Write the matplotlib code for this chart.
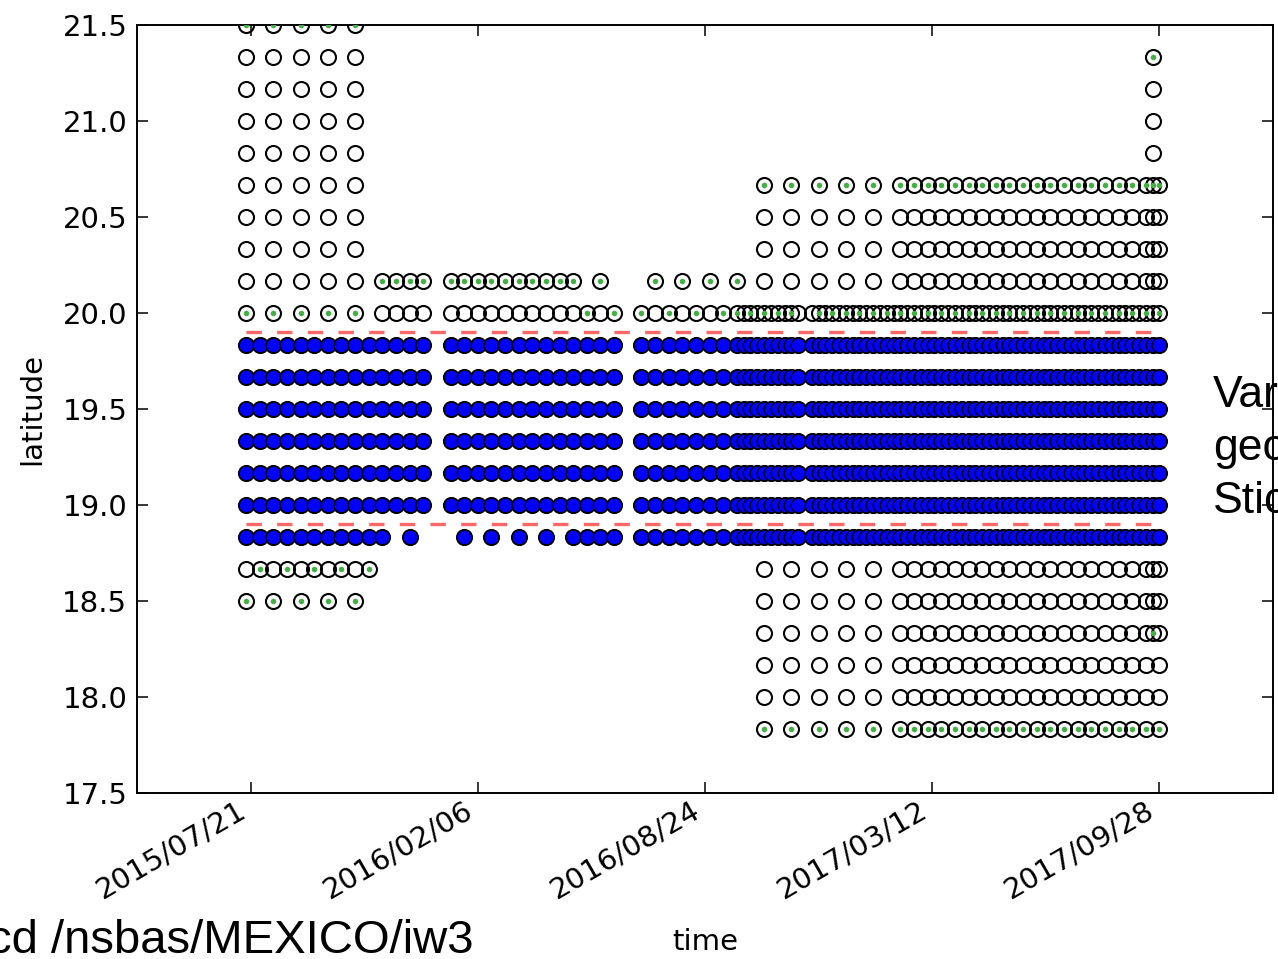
import matplotlib
matplotlib.use('Agg')
import matplotlib.pyplot as plt
import matplotlib.dates as mdates
import datetime as dt

# ---------------- data ----------------
first_acq = '2015-07-17'
# acquisition days (offset from first_acq)
s1a_days = [0, 12, 24, 36, 48, 60, 72, 84, 96, 108, 120, 132, 144, 156, 168, 180,
            192, 204, 216, 228, 240, 252, 264, 276, 288, 300, 312, 324, 336, 348,
            360, 372, 384, 396, 408, 420, 432, 444, 456, 468, 480, 504, 516, 528,
            540, 552, 564, 576, 588, 600, 612, 624, 636, 648, 660, 672, 684, 696,
            708, 720, 732, 744, 756, 768, 780, 792, 804]
s1b_days = [438, 450, 462, 474, 486, 498, 510, 522, 534, 546, 558, 570, 582, 594,
            606, 618, 630, 642, 654, 666, 678, 690, 702, 714, 726, 738, 750, 762,
            774, 786, 798]

left5 = [0, 24, 48, 72, 96]
mid5 = [456, 480, 504, 528, 552]
end_extra = [798]
r20167_a = [312]
r20167_b = [360, 384, 408, 432]
r20000_green = [300, 324, 348, 372, 396, 420]
r18833_sparse = [144, 192, 216, 240, 264]
r18667_green = [12, 36, 60, 84, 108]

row_lats = [21.5, 21.3333, 21.1667, 21.0, 20.8333, 20.6667, 20.5, 20.3333,
            20.1667, 20.0, 19.8333, 19.6667, 19.5, 19.3333, 19.1667, 19.0,
            18.8333, 18.6667, 18.5, 18.3333, 18.1667, 18.0, 17.8333]
blue_lats = [19.8333, 19.6667, 19.5, 19.3333, 19.1667, 19.0, 18.8333]

limit_lats = [19.9, 18.9]

tick_dates = ['2015/07/21', '2016/02/06', '2016/08/24', '2017/03/12', '2017/09/28']
xlim_dates = ['2015/04/12', '2018/01/06']
ylim = [17.5, 21.5]
yticks = [17.5, 18.0, 18.5, 19.0, 19.5, 20.0, 20.5, 21.0, 21.5]


def A(s, e):
    return [d for d in s1a_days if s <= d <= e]


def AB(s, e):
    return sorted(d for d in s1a_days + s1b_days if s <= d <= e)


full_right = mid5 + A(576, 804)
dense_main = A(0, 156) + A(180, 324) + A(348, 420) + AB(432, 804)

row_circles = [
    left5,
    left5 + end_extra,
    left5 + end_extra,
    left5 + end_extra,
    left5 + end_extra,
    left5 + full_right + end_extra,
    left5 + full_right + end_extra,
    left5 + full_right + end_extra,
    left5 + A(120, 156) + A(180, 288) + r20167_a + r20167_b + full_right + end_extra,
    left5 + A(120, 156) + A(180, 324) + A(348, 420) + AB(432, 804),
    dense_main, dense_main, dense_main, dense_main, dense_main, dense_main,
    A(0, 120) + r18833_sparse + A(288, 324) + A(348, 420) + AB(432, 804),
    A(0, 108) + full_right + end_extra,
    left5 + full_right + end_extra,
    full_right + end_extra,
    full_right,
    full_right,
    full_right,
]
row_green = [
    left5,
    end_extra,
    [], [], [],
    full_right + end_extra,
    [], [],
    A(120, 156) + A(180, 288) + r20167_a + r20167_b,
    left5 + r20000_green + A(432, 804),
    [], [], [], [], [], [], [],
    r18667_green,
    left5,
    end_extra,
    [], [],
    full_right,
]

# ---------------- plot ----------------
W, H = 1278, 959
fig = plt.figure(figsize=(W / 100, H / 100), dpi=100)
ax = fig.add_axes([137 / W, 1 - 793 / H, (1273 - 137) / W, (793 - 25) / H])

d0 = dt.datetime.strptime(first_acq, '%Y-%m-%d')


def to_dates(days):
    return [d0 + dt.timedelta(days=d) for d in days]


ring_kw = dict(linestyle='none', marker='o', ms=10.8, mfc='none', mec='black',
               mew=1.5)
for lat, days in zip(row_lats, row_circles):
    ax.plot(to_dates(days), [lat] * len(days), zorder=2, **ring_kw)

for lat, days in zip(row_lats, row_circles):
    if lat in blue_lats:
        ax.plot(to_dates(days), [lat] * len(days), linestyle='none', marker='o',
                ms=10.6, mfc='#0000ff', mec='black', mew=1.0, zorder=3)

for lat, days in zip(row_lats, row_green):
    if days:
        ax.plot(to_dates(days), [lat] * len(days), linestyle='none', marker='o',
                ms=4.0, mfc='#44b044', mec='none', zorder=4)

t_span = to_dates([s1a_days[0], s1a_days[-1]])
for lat in limit_lats:
    ax.plot(t_span, [lat, lat], color='#ff6666', lw=2.4,
            dashes=(4.6, 4.6), zorder=5)

ax.set_ylim(*ylim)
ax.set_yticks(yticks)
ax.set_yticklabels(['%.1f' % v for v in yticks])
ax.set_xlim([dt.datetime.strptime(s, '%Y/%m/%d') for s in xlim_dates])
ax.set_xticks([dt.datetime.strptime(s, '%Y/%m/%d') for s in tick_dates])
ax.xaxis.set_major_formatter(mdates.DateFormatter('%Y/%m/%d'))

for s in ax.spines.values():
    s.set_linewidth(1.4)
ax.tick_params(direction='in', length=8, width=1.1, top=True, right=True,
               labelsize=21)
ax.tick_params(axis='y', pad=7)
ax.tick_params(axis='x', pad=2)
for lbl in ax.get_xticklabels():
    lbl.set_rotation(30)
    lbl.set_ha('right')

ax.set_xlabel('time', fontsize=21)
ax.set_ylabel('latitude', fontsize=21)
ax.xaxis.set_label_coords(0.5, (793 - 942) / 768)
ax.xaxis.label.set_va('center')
ax.yaxis.set_label_coords((32 - 137) / 1136, 0.5)
ax.yaxis.label.set_va('center')

fig.text(1213 / W, 1 - 407 / H, 'Var', fontsize=32, family='Liberation Sans',
         va='baseline', ha='left')
fig.text(1213 / W, 1 - 460 / H, 'geo', fontsize=32, family='Liberation Sans',
         va='baseline', ha='left')
fig.text(1213 / W, 1 - 513 / H, 'Stic', fontsize=32, family='Liberation Sans',
         va='baseline', ha='left')
fig.text(474 / W, 1 - 953 / H, 'cd /nsbas/MEXICO/iw3', fontsize=34,
         family='Liberation Sans', va='baseline', ha='right')

fig.savefig('out.png', dpi=100)
